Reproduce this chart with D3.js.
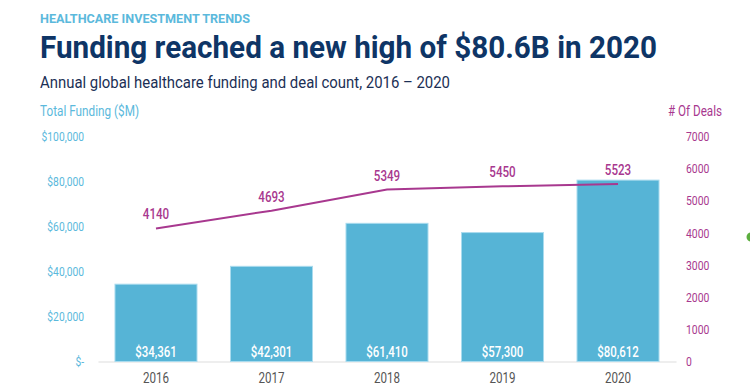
<!DOCTYPE html>
<html>
<head>
<meta charset="utf-8">
<script src="https://cdn.jsdelivr.net/npm/d3@7"></script>
<style>
  body { margin: 0; background: #fff; }
  text { font-family: Roboto, "Noto Sans", sans-serif; }
</style>
</head>
<body>
<div id="chart"></div>
<script>
var years = ['2016', '2017', '2018', '2019', '2020'];
var funding = [34361, 42301, 61410, 57300, 80612];
var deals = [4140, 4693, 5349, 5450, 5523];
var fundingTicks = [0, 20000, 40000, 60000, 80000, 100000];
var dealTicks = [0, 1000, 2000, 3000, 4000, 5000, 6000, 7000];

var chartWidth = 750;
var chartHeight = 390;
var blue = '#56b4d6';
var magenta = '#a8388f';
var navy = '#0e3566';

// squeeze text to mimic a condensed face
function condense(sel, f) {
  sel.each(function() {
    var w = this.getComputedTextLength();
    d3.select(this)
        .attr('textLength', w * f)
        .attr('lengthAdjust', 'spacingAndGlyphs');
  });
}

var svg = d3.select('#chart')
    .append('svg')
    .attr('width', chartWidth)
    .attr('height', chartHeight);

// Headings
svg.append('text')
    .text('HEALTHCARE INVESTMENT TRENDS')
    .attr('x', 40).attr('y', 23)
    .attr('font-size', 13.5).attr('font-weight', 700)
    .attr('textLength', 210).attr('lengthAdjust', 'spacingAndGlyphs')
    .attr('fill', '#5bb9dc');
svg.append('text')
    .text('Funding reached a new high of $80.6B in 2020')
    .attr('x', 40).attr('y', 58)
    .attr('font-size', 32).attr('font-weight', 700)
    .attr('textLength', 617).attr('lengthAdjust', 'spacingAndGlyphs')
    .attr('fill', navy);
svg.append('text')
    .text('Annual global healthcare funding and deal count, 2016 – 2020')
    .attr('x', 40).attr('y', 88)
    .attr('font-size', 16)
    .attr('textLength', 410).attr('lengthAdjust', 'spacingAndGlyphs')
    .attr('fill', '#1b2f55');
svg.append('text')
    .text('Total Funding ($M)')
    .attr('x', 40).attr('y', 116)
    .attr('font-size', 14)
    .attr('textLength', 99).attr('lengthAdjust', 'spacingAndGlyphs')
    .attr('fill', '#5bb9dc');
svg.append('text')
    .text('# Of Deals')
    .attr('x', 668).attr('y', 116)
    .attr('font-size', 14)
    .attr('textLength', 54).attr('lengthAdjust', 'spacingAndGlyphs')
    .attr('fill', magenta);

// Scales
var scaleX = d3.scaleBand()
    .domain(years)
    .range([98, 676])
    .paddingInner(0.29)
    .paddingOuter(0.147);
var scaleY = d3.scaleLinear()
    .domain([0, 100000])
    .range([361.5, 136.5]);
var scaleD = d3.scaleLinear()
    .domain([0, 7000])
    .range([361.5, 136.5]);

// Axes
var axisL = d3.axisLeft(scaleY)
    .tickValues(fundingTicks)
    .tickSize(0)
    .tickPadding(0)
    .tickFormat(function(d) { return d === 0 ? '$-' : '$' + d3.format(',')(d); });
var gL = svg.append('g')
    .attr('transform', 'translate(84,0)')
    .call(axisL)
    .attr('font-family', null);
gL.select('.domain').remove();
gL.selectAll('text').attr('fill', '#5bb9dc').attr('font-size', 13).call(condense, 0.79);

var axisR = d3.axisRight(scaleD)
    .tickValues(dealTicks)
    .tickSize(0)
    .tickPadding(0)
    .tickFormat(d3.format('d'));
var gR = svg.append('g')
    .attr('transform', 'translate(686,0)')
    .call(axisR)
    .attr('font-family', null);
gR.select('.domain').remove();
gR.selectAll('text').attr('fill', magenta).attr('font-size', 13).call(condense, 0.8);

var axisB = d3.axisBottom(scaleX)
    .tickSize(0)
    .tickPadding(11);
var gB = svg.append('g')
    .attr('transform', 'translate(0,' + scaleY(0) + ')')
    .call(axisB)
    .attr('font-family', null);
gB.select('.domain').attr('stroke', '#eeeeee').attr('stroke-width', 2);
gB.selectAll('text').attr('fill', '#555').attr('font-size', 14.5).call(condense, 0.8);

// Bars
svg.append('g').selectAll('rect')
    .data(funding)
    .enter()
    .append('rect')
    .attr('x', function(d, i) { return scaleX(years[i]); })
    .attr('y', function(d) { return scaleY(d); })
    .attr('width', scaleX.bandwidth())
    .attr('height', function(d) { return scaleY(0) - scaleY(d); })
    .attr('fill', blue)
    .attr('stroke', '#a9dbee')
    .attr('stroke-width', 1);

// Bar labels
svg.append('g').selectAll('text')
    .data(funding)
    .enter()
    .append('text')
    .text(function(d) { return '$' + d3.format(',')(d); })
    .attr('x', function(d, i) { return scaleX(years[i]) + scaleX.bandwidth() / 2; })
    .attr('y', scaleY(0) - 5)
    .attr('text-anchor', 'middle')
    .attr('font-size', 14.5)
    .attr('font-weight', 500)
    .attr('fill', '#fff')
    .call(condense, 0.79);

// Deals line
var line = d3.line()
    .x(function(d, i) { return scaleX(years[i]) + scaleX.bandwidth() / 2; })
    .y(function(d) { return scaleD(d); });
svg.append('path')
    .datum(deals)
    .attr('d', line)
    .attr('fill', 'none')
    .attr('stroke', magenta)
    .attr('stroke-width', 2);

svg.append('g').selectAll('text')
    .data(deals)
    .enter()
    .append('text')
    .text(function(d) { return d; })
    .attr('x', function(d, i) { return scaleX(years[i]) + scaleX.bandwidth() / 2; })
    .attr('y', function(d) { return scaleD(d) - 9; })
    .attr('text-anchor', 'middle')
    .attr('font-size', 14.5)
    .attr('font-weight', 500)
    .attr('fill', magenta)
    .call(condense, 0.8);

// stray green marker at the right edge
svg.append('circle')
    .attr('cx', 751).attr('cy', 237).attr('r', 4.5)
    .attr('fill', '#5cae3e');
</script>
</body>
</html>
